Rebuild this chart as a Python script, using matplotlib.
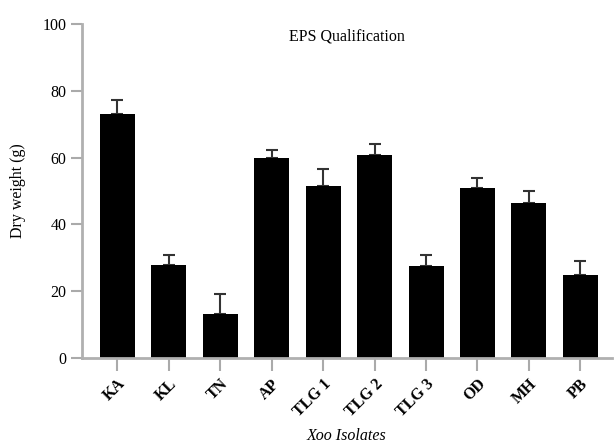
import matplotlib as mpl
mpl.use('Agg')
import matplotlib.pyplot as plt

isolates = ['KA', 'KL', 'TN', 'AP', 'TLG 1', 'TLG 2', 'TLG 3', 'OD', 'MH', 'PB']
dry_weight = [73.0, 27.9, 13.2, 60.0, 51.4, 60.7, 27.6, 50.9, 46.4, 24.9]
err = [4.3, 2.8, 5.9, 2.2, 5.2, 3.3, 3.3, 3.1, 3.7, 4.0]

plt.rcParams['font.family'] = ['Liberation Serif', 'DejaVu Serif']

fig = plt.figure(figsize=(6.16, 4.44), dpi=100)
ax = fig.add_axes([0.133, 0.194, 0.86, 0.752])

x = list(range(len(isolates)))
ax.bar(x, dry_weight, width=0.68, color='black', zorder=2)
ax.errorbar(x, dry_weight, yerr=[[0] * len(err), err], fmt='none',
            ecolor='#333333', elinewidth=1.5, capsize=4, capthick=1.5, zorder=1)

ax.set_xlim(-0.69, 9.61)
ax.set_ylim(0, 100)
ax.set_yticks([0, 20, 40, 60, 80, 100])
ax.set_xticks(x)
ax.set_xticklabels(isolates, rotation=45, ha='right', rotation_mode='anchor',
                   fontweight='bold', fontsize=11.5)
ax.tick_params(axis='y', labelsize=11.5, length=8, width=1.5, color='#aaaaaa', pad=3)
ax.tick_params(axis='x', length=9, width=1.5, color='#aaaaaa', pad=4)

for s in ['top', 'right']:
    ax.spines[s].set_visible(False)
for s in ['left', 'bottom']:
    ax.spines[s].set_color('#b0b0b0')
    ax.spines[s].set_linewidth(2)

ax.set_ylabel('Dry weight (g)', fontsize=11.5, labelpad=12)
ax.set_xlabel('Xoo Isolates', fontsize=11.5, fontstyle='italic', labelpad=6)
ax.text(0.5, 0.985, 'EPS Qualification', transform=ax.transAxes,
        ha='center', va='top', fontsize=11.5)

fig.savefig('out.png', dpi=100)
